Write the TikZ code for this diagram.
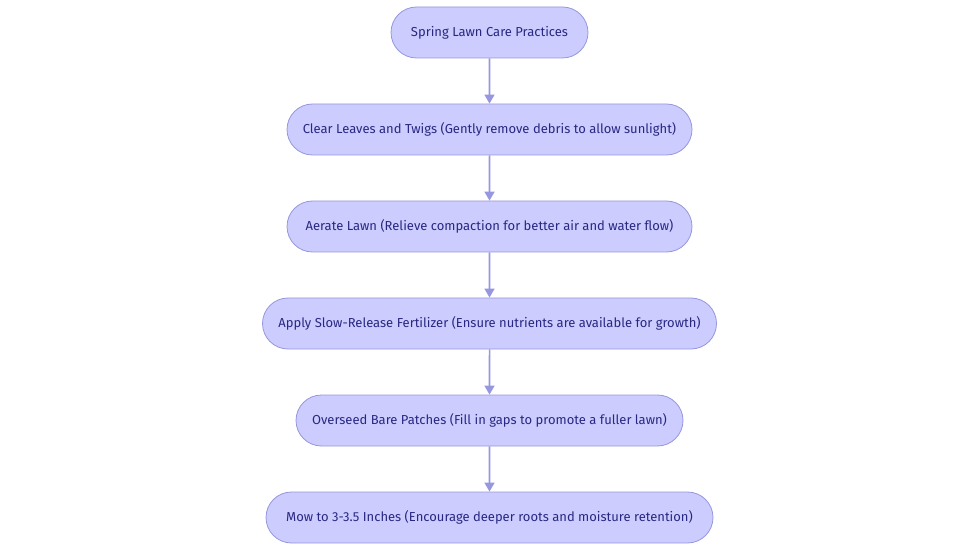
\documentclass[tikz,border=0pt]{standalone}
\usepackage{fontspec}
\setmainfont{Fira Sans}
\usetikzlibrary{arrows.meta,positioning,shapes.misc}
\definecolor{fill1}{RGB}{204,204,255}
\definecolor{line1}{RGB}{150,150,222}
\definecolor{text1}{RGB}{40,40,130}
\definecolor{arrow1}{RGB}{150,150,225}

\begin{document}
\begin{tikzpicture}[x=1pt,y=-1pt,
  stepbox/.style={rounded rectangle, draw=line1, fill=fill1, line width=0.8pt,
    minimum height=51pt, inner xsep=0pt, text=text1,
    font=\fontsize{13}{15}\selectfont},
  flow/.style={draw=arrow1, line width=1.6pt, -{Triangle[width=10pt,length=9pt]}}]

\useasboundingbox (0,0) rectangle (980,553);

% ----- boxes, one per step -----
\node[stepbox, minimum width=197pt] (spring) at (489.5,32.5) {Spring Lawn Care Practices};
\node[stepbox, minimum width=405pt] (clear) at (489.5,129.5) {Clear Leaves and Twigs (Gently remove debris to allow sunlight)};
\node[stepbox, minimum width=405pt] (aerate) at (489.5,226.5) {Aerate Lawn (Relieve compaction for better air and water flow)};
\node[stepbox, minimum width=454pt] (fert) at (489.5,323.5) {Apply Slow-Release Fertilizer (Ensure nutrients are available for growth)};
\node[stepbox, minimum width=387pt] (seed) at (489.5,420.5) {Overseed Bare Patches (Fill in gaps to promote a fuller lawn)};
\node[stepbox, minimum width=447pt] (mow) at (489.5,517.5) {Mow to 3-3.5 Inches (Encourage deeper roots and moisture retention)};

% ----- arrows -----
\foreach \a/\b in {spring/clear,clear/aerate,aerate/fert,fert/seed,seed/mow}
  \draw[flow] (\a) -- (\b);

\end{tikzpicture}
\end{document}
